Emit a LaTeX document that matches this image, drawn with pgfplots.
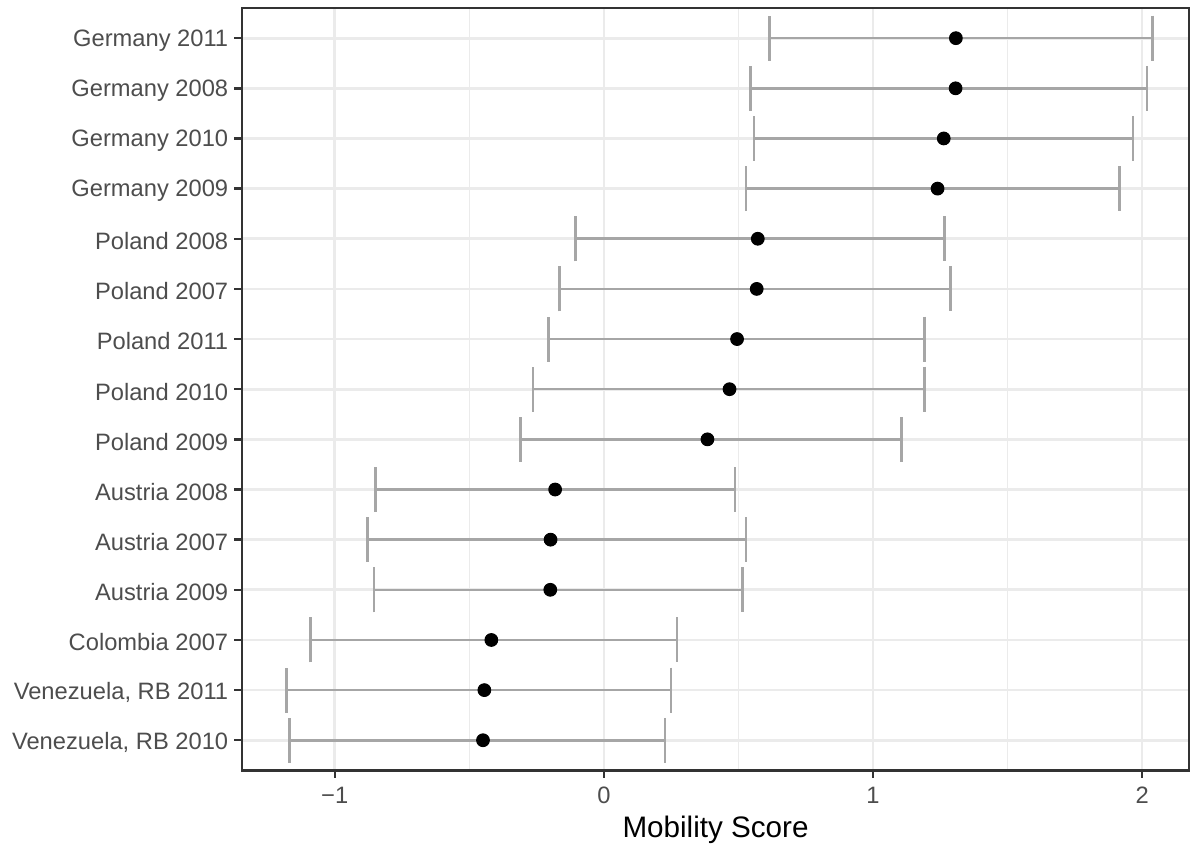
\documentclass[border=0pt]{standalone}
\usepackage{pgfplots}
\usepackage{pgfplotstable}
\pgfplotsset{compat=1.18}
\usepackage{fontspec}
\setmainfont{Liberation Sans}
\definecolor{gridc}{HTML}{EBEBEB}
\definecolor{barc}{HTML}{A6A6A6}
\definecolor{axc}{HTML}{333333}
\definecolor{labc}{HTML}{4D4D4D}
\pgfplotstableread{
y x em ep
14 1.308 0.693 0.731
13 1.307 0.763 0.712
12 1.263 0.705 0.703
11 1.240 0.712 0.676
10 0.572 0.677 0.694
9 0.568 0.733 0.720
8 0.495 0.701 0.696
7 0.467 0.730 0.724
6 0.385 0.694 0.721
5 -0.181 0.668 0.669
4 -0.198 0.680 0.727
3 -0.199 0.655 0.715
2 -0.418 0.672 0.689
1 -0.444 0.736 0.694
0 -0.449 0.720 0.677
}\data
\begin{document}
\begin{tikzpicture}
\begin{axis}[
  scale only axis, width=351.7pt, height=283pt,
  xmin=-1.345, xmax=2.175, ymin=-0.6, ymax=14.6,
  xtick={-1,0,1,2}, xticklabels={−1,0,1,2},
  minor xtick={-0.5,0.5,1.5},
  ytick={0,...,14},
  yticklabels={{Venezuela, RB 2010},{Venezuela, RB 2011},Colombia 2007,Austria 2009,Austria 2007,Austria 2008,Poland 2009,Poland 2010,Poland 2011,Poland 2007,Poland 2008,Germany 2009,Germany 2010,Germany 2008,Germany 2011},
  xtick pos=bottom, ytick pos=left,
  xmajorgrids, xminorgrids, ymajorgrids,
  major grid style={gridc, line width=1.0pt},
  minor grid style={gridc, line width=0.5pt},
  axis line style={axc, line width=0.9pt},
  tick align=outside, major tick length=2.75pt, minor tick length=0pt,
  major tick style={axc, line width=0.9pt},
  minor tick style={draw=none},
  ticklabel style={font=\fontsize{8.8}{10}\selectfont, text=labc},
  yticklabel style={xshift=1.2pt, yshift=-0.9pt},
  xlabel={Mobility Score},
  xlabel style={font=\fontsize{11}{13}\selectfont, text=black, yshift=2.4pt},
]
\addplot[barc, line width=0.9pt, only marks, mark=none,
  error bars/.cd, x dir=both, x explicit, error mark=|,
  error bar style={barc, line width=0.95pt},
  error mark options={barc, mark size=8.35pt, line width=0.95pt}]
  table[x=x, y=y, x error plus=ep, x error minus=em]{\data};
\addplot[only marks, mark=*, mark size=2.35pt, black] table[x=x, y=y]{\data};
\end{axis}
\pgfresetboundingbox
\path ([shift={(-89.8pt,-27.45pt)}]current axis.south west) rectangle ([shift={(0.3pt,3pt)}]current axis.north east);
\end{tikzpicture}
\end{document}
